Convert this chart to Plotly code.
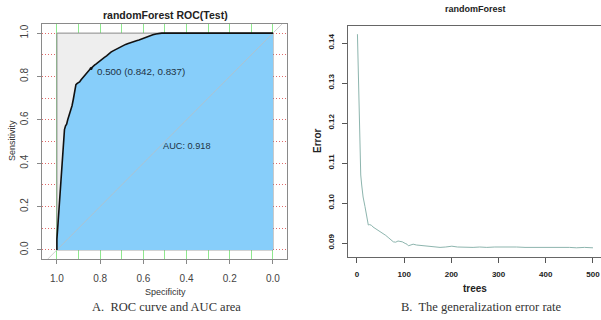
import plotly.graph_objects as go

# ---------------- data ----------------
roc_specificity = [1.000, 1.000, 0.995, 0.990, 0.985, 0.982, 0.978, 0.975, 0.972, 0.968, 0.965, 0.960,
                   0.955, 0.950, 0.945, 0.940, 0.935, 0.930, 0.924, 0.920, 0.917, 0.912, 0.906, 0.900,
                   0.895, 0.888, 0.880, 0.872, 0.865, 0.858, 0.850, 0.842, 0.835, 0.826, 0.818, 0.810,
                   0.800, 0.790, 0.780, 0.770, 0.760, 0.750, 0.740, 0.728, 0.716, 0.705, 0.694, 0.682,
                   0.670, 0.658, 0.645, 0.632, 0.620, 0.608, 0.595, 0.582, 0.570, 0.556, 0.542, 0.528,
                   0.515, 0.450, 0.400, 0.300, 0.200, 0.100, 0.000]
roc_sensitivity = [0.000, 0.050, 0.120, 0.190, 0.260, 0.330, 0.400, 0.440, 0.480, 0.530, 0.555, 0.572,
                   0.580, 0.600, 0.615, 0.630, 0.650, 0.665, 0.695, 0.720, 0.745, 0.762, 0.768, 0.770,
                   0.775, 0.785, 0.795, 0.805, 0.815, 0.822, 0.830, 0.837, 0.845, 0.852, 0.858, 0.865,
                   0.872, 0.880, 0.888, 0.895, 0.905, 0.912, 0.918, 0.925, 0.932, 0.938, 0.943, 0.948,
                   0.952, 0.957, 0.962, 0.965, 0.968, 0.973, 0.978, 0.983, 0.988, 0.992, 0.996, 0.998,
                   1.000, 1.000, 1.000, 1.000, 1.000, 1.000, 1.000]
best_threshold = 0.500
best_point = (0.842, 0.837)
auc_value = 0.918

max_auc_box_x = [1, 0, 0, 1, 1]
max_auc_box_y = [0, 0, 1, 1, 0]
diag_x = [1.2, -0.2]
diag_y = [-0.2, 1.2]

roc_ticks = [0, 0.2, 0.4, 0.6, 0.8, 1.0]
roc_tick_labels = ["0.0", "0.2", "0.4", "0.6", "0.8", "1.0"]

trees = [1, 3, 5, 6, 8, 10, 13, 17, 20, 24, 27, 31, 34, 38, 42, 45, 50, 56, 61, 66, 71, 77,
         82, 87, 91, 96, 102, 106, 109, 114, 119, 126, 134, 141, 148, 156, 165, 176, 188, 201,
         213, 226, 236, 246, 260, 275, 292, 310, 324, 338, 356, 374, 395, 416, 428, 437, 450,
         465, 482, 500]
error_rate = [0.1422, 0.1300, 0.1199, 0.1108, 0.1070, 0.1045, 0.1015, 0.0991, 0.0968, 0.0945,
              0.0946, 0.0944, 0.0940, 0.0937, 0.0935, 0.0932, 0.0929, 0.0924, 0.0919, 0.0914,
              0.0910, 0.0903, 0.0902, 0.0905, 0.0904, 0.0903, 0.0899, 0.0897, 0.0893, 0.0896,
              0.0897, 0.0895, 0.0894, 0.0894, 0.0893, 0.0892, 0.0891, 0.0889, 0.0890, 0.0892,
              0.0890, 0.0889, 0.0890, 0.0889, 0.0890, 0.0889, 0.0890, 0.0890, 0.0891, 0.0890,
              0.0889, 0.0889, 0.0890, 0.0889, 0.0890, 0.0890, 0.0889, 0.0888, 0.0889, 0.0888]

err_ticks = [0.09, 0.10, 0.11, 0.12, 0.13, 0.14]
err_tick_labels = ["0.09", "0.10", "0.11", "0.12", "0.13", "0.14"]
tree_ticks = [0, 100, 200, 300, 400, 500]

# ---------------- figure ----------------
W, H = 601, 320
def fx(px): return px / W
def fy(py): return 1 - py / H

fig = go.Figure()

# panel A
fig.add_trace(go.Scatter(x=max_auc_box_x, y=max_auc_box_y, mode="lines", fill="toself",
                         fillcolor="#EEEEEE", line=dict(color="#8a8a8a", width=1),
                         xaxis="x", yaxis="y", hoverinfo="skip"))
fig.add_trace(go.Scatter(x=roc_specificity, y=roc_sensitivity, mode="lines", fill="tozeroy",
                         fillcolor="#87CEFA", line=dict(color="rgba(0,0,0,0)", width=0),
                         xaxis="x", yaxis="y", hoverinfo="skip"))
fig.add_trace(go.Scatter(x=diag_x, y=diag_y, mode="lines",
                         line=dict(color="rgba(190,190,190,0.75)", width=1),
                         xaxis="x", yaxis="y", hoverinfo="skip"))
fig.add_trace(go.Scatter(x=roc_specificity, y=roc_sensitivity, mode="lines",
                         line=dict(color="#111111", width=1.6),
                         xaxis="x", yaxis="y"))
fig.add_trace(go.Scatter(x=[best_point[0]], y=[best_point[1]], mode="markers",
                         marker=dict(color="#111111", size=3),
                         xaxis="x", yaxis="y"))

# panel B
fig.add_trace(go.Scatter(x=trees, y=error_rate, mode="lines",
                         line=dict(color="#8DB5AE", width=1),
                         xaxis="x2", yaxis="y2"))

gray_font = dict(family="Liberation Sans, Arial", size=10, color="#444444")
bold_font = dict(family="Liberation Sans, Arial", size=8, color="#222222", weight="bold")

fig.update_layout(
    width=W, height=H, margin=dict(l=0, r=0, t=0, b=0),
    paper_bgcolor="white", plot_bgcolor="white", showlegend=False,
    xaxis=dict(domain=[fx(42), fx(287)], range=[1.069, -0.065], anchor="y",
               tickvals=roc_ticks, ticktext=roc_tick_labels, ticks="outside", ticklen=4,
               tickcolor="#888888", ticklabelstandoff=6, tickfont=gray_font,
               showline=True, linecolor="#8a8a8a", linewidth=1, mirror=True,
               showgrid=True, gridcolor="#8ee88e", gridwidth=1,
               minor=dict(dtick=0.1, tick0=0, showgrid=True, gridcolor="#8ee88e", gridwidth=1),
               zeroline=False, fixedrange=True),
    yaxis=dict(domain=[fy(259), fy(24)], range=[-0.042, 1.042], anchor="x",
               tickvals=roc_ticks, ticktext=roc_tick_labels, ticks="outside", ticklen=4,
               tickcolor="#888888", tickangle=-90, ticklabelstandoff=5, tickfont=gray_font,
               showline=True, linecolor="#8a8a8a", linewidth=1, mirror=True,
               showgrid=True, gridcolor="#e06a6a", gridwidth=1, griddash="1px,2px",
               minor=dict(dtick=0.1, tick0=0, showgrid=True, gridcolor="#e06a6a",
                          gridwidth=1, griddash="1px,2px"),
               zeroline=False, fixedrange=True),
    xaxis2=dict(domain=[fx(348), 1.0], range=[-19, 517], anchor="y2",
                tickvals=tree_ticks, ticks="outside", ticklen=5, tickcolor="#555555",
                ticklabelstandoff=4, tickfont=bold_font,
                showline=True, linecolor="#666666", linewidth=1, mirror=True,
                showgrid=False, zeroline=False, fixedrange=True),
    yaxis2=dict(domain=[fy(257), fy(26)], range=[0.0865, 0.14425], anchor="x2",
                tickvals=err_ticks, ticktext=err_tick_labels, ticks="outside", ticklen=5,
                tickcolor="#555555", tickangle=-90, ticklabelstandoff=5, tickfont=bold_font,
                showline=True, linecolor="#666666", linewidth=1, mirror=False,
                showgrid=False, zeroline=False, fixedrange=True),
)

ann = []
def add_text(text, x, y, size, color="#222222", bold=False, family="Liberation Sans, Arial",
             angle=0, xanchor="center", xref="paper", yref="paper"):
    f = dict(family=family, size=size, color=color)
    if bold:
        f["weight"] = "bold"
    ann.append(dict(text=text, x=x, y=y, xref=xref, yref=yref, showarrow=False,
                    font=f, textangle=angle, xanchor=xanchor, yanchor="middle"))

# panel A texts
add_text("randomForest ROC(Test)", fx(165), fy(15), 10.5, color="#222222", bold=True)
add_text("Specificity", fx(165), fy(292), 9, color="#333333")
add_text("Sensitivity", fx(12), fy(141), 9, color="#333333", angle=-90)
add_text(f"{best_threshold:.3f} ({best_point[0]:.3f}, {best_point[1]:.3f})", 0.824, 0.825, 9.8,
         color="#223344", xanchor="left", xref="x", yref="y")
add_text(f"AUC: {auc_value:.3f}", 0.398, 0.48, 9.2, color="#223344", xref="x", yref="y")
add_text("A.  ROC curve and AUC area", fx(167), fy(307), 12.5, color="#333333",
         family="Liberation Serif, DejaVu Serif")

# panel B texts
add_text("randomForest", fx(475), fy(9), 9, color="#222222", bold=True)
add_text("trees", fx(475), fy(288), 10, color="#222222", bold=True)
add_text("Error", fx(317), fy(141), 10, color="#222222", bold=True, angle=-90)
add_text("B.  The generalization error rate", fx(481), fy(307), 12.5, color="#333333",
         family="Liberation Serif, DejaVu Serif")

fig.update_layout(annotations=ann)

fig.write_html("out.html", config={"displayModeBar": False},
               post_script="document.body.style.margin='0';document.body.style.padding='0';"
                           "document.body.style.overflow='hidden';")
